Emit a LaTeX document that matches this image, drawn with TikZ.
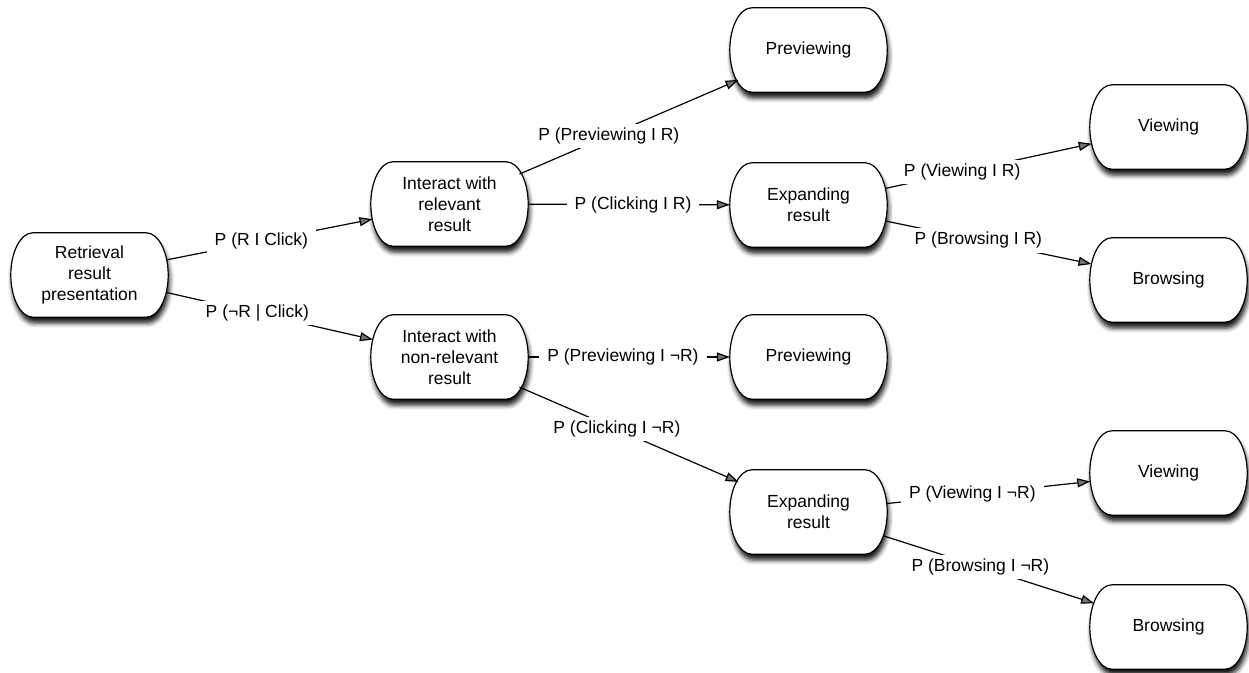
\documentclass[tikz,border=0pt]{standalone}
\usepackage{fontspec}
\setmainfont{Liberation Sans}
\usetikzlibrary{calc,arrows.meta,shadows.blur}
\pgfdeclarelayer{background}
\pgfsetlayers{background,main}
\newcommand\roundbox[1]{%
  \path[boxline] ($(#1.north west)+(22,0)$) -- ($(#1.north east)+(-22,0)$)
    .. controls +(12.15,0) and +(0,-23.2) .. (#1.east)
    .. controls +(0,23.2) and +(12.15,0) .. ($(#1.south east)+(-22,0)$)
    -- ($(#1.south west)+(22,0)$)
    .. controls +(-12.15,0) and +(0,23.2) .. (#1.west)
    .. controls +(0,-23.2) and +(-12.15,0) .. ($(#1.north west)+(22,0)$) -- cycle;}
\begin{document}
\begin{tikzpicture}[x=1pt,y=-1pt,
  state/.style={rectangle, draw=none, minimum width=157pt, minimum height=84pt,
    align=center, inner sep=0pt, font=\fontsize{17.5}{21}\selectfont},
  boxline/.style={draw, line width=1.2pt, fill=white,
    blur shadow={shadow xshift=1.5pt, shadow yshift=-6pt, shadow blur radius=4.5pt, shadow opacity=90}},
  flow/.style={line width=1.2pt, -{Triangle[length=13pt,width=9pt]}},
  lbl/.style={fill=white, inner xsep=8pt, inner ysep=4pt, font=\fontsize{17.5}{21}\selectfont}]
\useasboundingbox (0,0) rectangle (1249,672);
% nodes
\node[state] (ret)   at (89.5,275) {Retrieval\\result\\presentation};
\node[state] (irel)  at (449.5,204) {Interact with\\relevant\\result};
\node[state] (inon)  at (449.5,357) {Interact with\\non-relevant\\result};
\node[state] (prevt) at (808.5,50) {Previewing};
\node[state] (expt)  at (808.5,205) {Expanding\\result};
\node[state] (prevl) at (808.5,357) {Previewing};
\node[state] (expl)  at (808.5,512) {Expanding\\result};
\node[state] (viewt) at (1168.5,127) {Viewing};
\node[state] (browt) at (1168.5,280) {Browsing};
\node[state] (viewl) at (1168.5,473) {Viewing};
\node[state] (browl) at (1168.5,627) {Browsing};
\begin{pgfonlayer}{background}
\foreach \n in {ret,irel,inon,prevt,expt,prevl,expl,viewt,browt,viewl,browl}{\roundbox{\n}}
\end{pgfonlayer}
% connectors
\draw[flow, shorten <=-1.7pt, shorten >=-1.7pt] (ret) -- node[lbl,pos=0.46] {P (R I Click)} (irel);
\draw[flow, shorten <=-2.2pt, shorten >=-2.2pt] (ret) -- node[lbl,pos=0.44] {P (¬R | Click)} (inon);
\draw[flow, shorten <=-9.5pt, shorten >=-9.5pt] (irel) -- node[lbl,pos=0.40] {P (Previewing I R)} (prevt);
\draw[flow] (irel) -- node[lbl,pos=0.52] {P (Clicking I R)} (expt);
\draw[flow, shorten <=-1.9pt, shorten >=-1.9pt] (expt) -- node[lbl,pos=0.37] {P (Viewing I R)} (viewt);
\draw[flow, shorten <=-1.7pt, shorten >=-1.7pt] (expt) -- node[lbl,pos=0.45] {P (Browsing I R)} (browt);
\draw[flow] (inon) -- node[lbl,pos=0.47] {P (Previewing I ¬R)} (prevl);
\draw[flow, shorten <=-9.5pt, shorten >=-9.5pt] (inon) -- node[lbl,pos=0.44] {P (Clicking I ¬R)} (expl);
\draw[flow, shorten <=-0.5pt, shorten >=-0.5pt] (expl) -- node[lbl,pos=0.42] {P (Viewing I ¬R)} (viewl);
\draw[flow, shorten <=-4.5pt, shorten >=-4.5pt] (expl) -- node[lbl,pos=0.46] {P (Browsing I ¬R)} (browl);
\end{tikzpicture}
\end{document}
